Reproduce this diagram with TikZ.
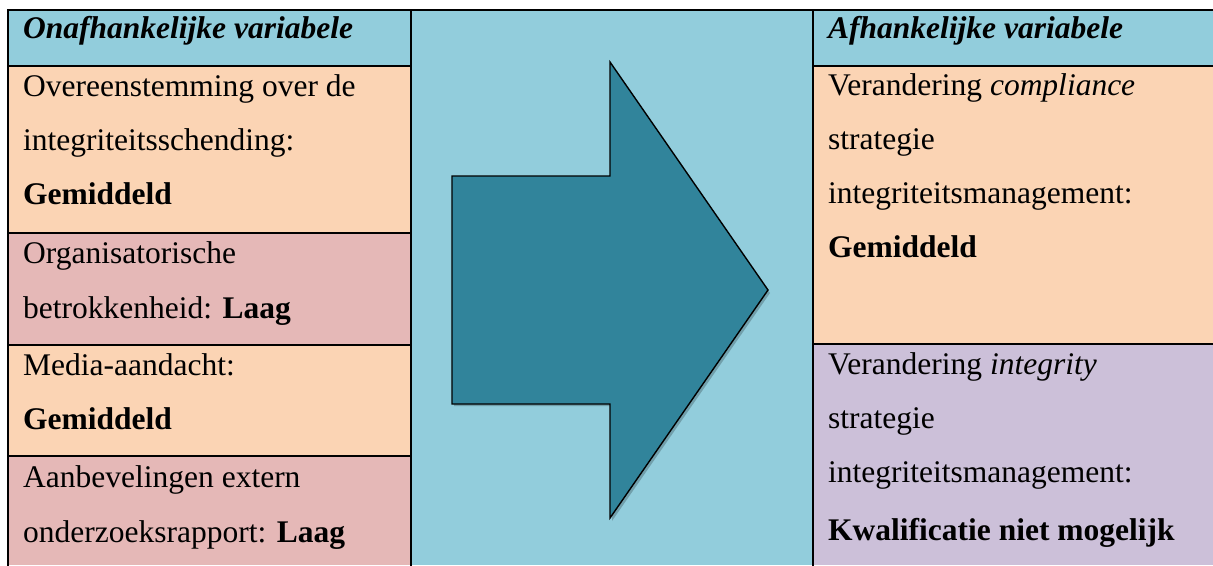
\documentclass[tikz,border=0pt]{standalone}
\usepackage{fontspec}
\setmainfont{Liberation Serif}
\begin{document}
\begin{tikzpicture}[x=1pt,y=-1pt,
  rule/.style={line width=2pt,line cap=rect},
  txt/.style={anchor=base west,inner sep=0pt,font=\fontsize{31.5}{54}\selectfont},
  hdr/.style={txt,font=\fontsize{31.5}{54}\selectfont\bfseries\itshape}]
\definecolor{headblue}{HTML}{92CDDC}
\definecolor{peach}{HTML}{FBD4B4}
\definecolor{rose}{HTML}{E5B8B7}
\definecolor{lavender}{HTML}{CCC0D9}
\definecolor{arrowteal}{HTML}{31849B}
\useasboundingbox (0,0) rectangle (1213,565);
\fill[white] (0,0) rectangle (1213,565);

% cell fills
\fill[headblue] (8,10) rectangle (411,66);
\fill[peach]    (8,66) rectangle (411,233);
\fill[rose]     (8,233) rectangle (411,345);
\fill[peach]    (8,345) rectangle (411,456);
\fill[rose]     (8,456) rectangle (411,565);
\fill[headblue] (411,10) rectangle (813,565);
\fill[headblue] (813,10) rectangle (1213,66);
\fill[peach]    (813,66) rectangle (1213,344);
\fill[lavender] (813,344) rectangle (1213,565);

% block arrow with a soft drop shadow
\fill[black,opacity=0.22] (454,179) -- (612,179) -- (612,65) -- (770,293)
  -- (612,521) -- (612,406) -- (454,406) -- cycle;
\filldraw[fill=arrowteal,draw=black,line width=1.4pt,line join=miter]
  (452,176) -- (610,176) -- (610,62) -- (768,290) -- (610,518)
  -- (610,404) -- (452,404) -- cycle;

% left column
\node[hdr] (lh)  at (23,38)  {Onafhankelijke variabele};
\node[txt] (l1a) at (23,96)  {Overeenstemming over de};
\node[txt] (l1b) at (23,150) {integriteitsschending:};
\node[txt] (l1c) at (23,204) {\bfseries Gemiddeld};
\node[txt] (l2a) at (23,263) {Organisatorische};
\node[txt] (l2b) at (23,318) {betrokkenheid: \textbf{Laag}};
\node[txt] (l3a) at (23,375) {Media-aandacht:};
\node[txt] (l3b) at (23,429) {\bfseries Gemiddeld};
\node[txt] (l4a) at (23,487) {Aanbevelingen extern};
\node[txt] (l4b) at (23,542) {onderzoeksrapport: \textbf{Laag}};

% right column
\node[hdr] (rh)  at (828,38)  {Afhankelijke variabele};
\node[txt] (r1a) at (828,95)  {Verandering \textit{compliance}};
\node[txt] (r1b) at (828,149) {strategie};
\node[txt] (r1c) at (828,203) {integriteitsmanagement:};
\node[txt] (r1d) at (828,257) {\bfseries Gemiddeld};
\node[txt] (r2a) at (828,374) {Verandering \textit{integrity}};
\node[txt] (r2b) at (828,428) {strategie};
\node[txt] (r2c) at (828,482) {integriteitsmanagement:};
\node[txt] (r2d) at (828,540) {\bfseries Kwalificatie niet mogelijk};

% table rules
\draw[rule] (8,565) -- (8,10) -- (1213,10);
\draw[rule] (411,10) -- (411,565);
\draw[rule] (813,10) -- (813,565);
\draw[rule] (8,66) -- (411,66);
\draw[rule] (8,233) -- (411,233);
\draw[rule] (8,345) -- (411,345);
\draw[rule] (8,456) -- (411,456);
\draw[rule] (813,66) -- (1213,66);
\draw[rule] (813,344) -- (1213,344);
\end{tikzpicture}
\end{document}
